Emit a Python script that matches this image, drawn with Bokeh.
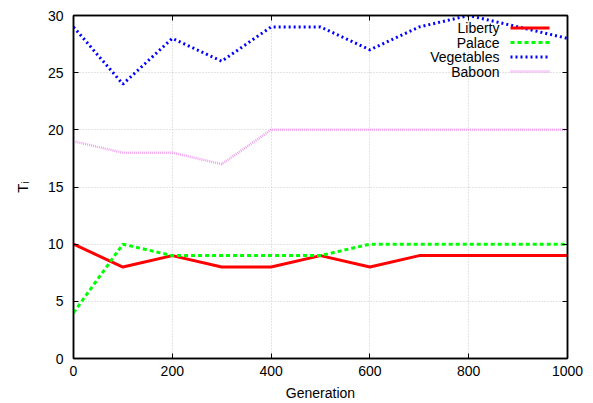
from bokeh.plotting import figure
from bokeh.models import LinearAxis, Range1d, Label, FixedTicker, Arrow
from bokeh.embed import file_html
from bokeh.resources import INLINE

generation = [0, 100, 200, 300, 400, 500, 600, 700, 800, 900, 1000]
liberty = [10, 8, 9, 8, 8, 9, 8, 9, 9, 9, 9]
palace = [4, 10, 9, 9, 9, 9, 10, 10, 10, 10, 10]
vegetables = [29, 24, 28, 26, 29, 29, 27, 29, 30, 29, 28]
baboon = [19, 18, 18, 17, 20, 20, 20, 20, 20, 20, 20]
series_names = ["Liberty", "Palace", "Vegetables", "Baboon"]
x_ticks = [0, 200, 400, 600, 800, 1000]
y_ticks = [0, 5, 10, 15, 20, 25, 30]

FONT = "Liberation Sans"
FS = "14px"

p = figure(width=585, height=403, output_backend="svg", toolbar_location=None,
           x_range=Range1d(0, 1000), y_range=Range1d(0, 30),
           min_border_left=73, min_border_right=18, min_border_top=15, min_border_bottom=45)
p.outline_line_color = "black"
p.outline_line_width = 1.5
p.background_fill_color = "white"
p.border_fill_color = "white"

for ax in (p.xaxis[0], p.yaxis[0]):
    ax.major_tick_in = 5
    ax.major_tick_out = 0
    ax.minor_tick_in = 0
    ax.minor_tick_out = 0
    ax.axis_line_color = "black"
    ax.axis_line_width = 1.5
    ax.major_tick_line_color = "black"
    ax.major_label_text_font = FONT
    ax.major_label_text_font_size = FS
    ax.major_label_text_color = "black"
    ax.axis_label_text_font = FONT
    ax.axis_label_text_font_size = FS
    ax.axis_label_text_font_style = "normal"
    ax.axis_label_text_color = "black"

p.xaxis[0].ticker = FixedTicker(ticks=x_ticks)
p.yaxis[0].ticker = FixedTicker(ticks=y_ticks)
p.xaxis[0].axis_label = "Generation"
p.xaxis[0].major_label_standoff = 7
p.xaxis[0].axis_label_standoff = 6
p.yaxis[0].axis_label = "Tᵢ"
p.yaxis[0].axis_label_text_font_size = "15px"
p.yaxis[0].major_label_standoff = 10
p.yaxis[0].axis_label_standoff = 14

# mirrored ticks (no labels)
rax = LinearAxis(ticker=FixedTicker(ticks=y_ticks),
                 major_label_overrides={t: "" for t in y_ticks},
                 major_tick_in=5, major_tick_out=0, minor_tick_in=0, minor_tick_out=0,
                 axis_line_color="black", axis_line_width=1.5, major_label_standoff=0)
tax = LinearAxis(ticker=FixedTicker(ticks=x_ticks),
                 major_label_overrides={t: "" for t in x_ticks},
                 major_tick_in=5, major_tick_out=0, minor_tick_in=0, minor_tick_out=0,
                 axis_line_color="black", axis_line_width=1.5, major_label_standoff=0)
p.add_layout(rax, "right")
p.add_layout(tax, "above")

p.xgrid.ticker = FixedTicker(ticks=x_ticks[1:-1])
p.ygrid.ticker = FixedTicker(ticks=y_ticks[1:-1])
p.grid.grid_line_color = "#c8c8c8"
p.grid.grid_line_dash = "1 2"
p.grid.grid_line_width = 1

styles = [
    dict(line_color="#ff0000", line_width=3, line_dash="solid"),
    dict(line_color="#00ff00", line_width=3, line_dash="4 3"),
    dict(line_color="#0000ff", line_width=3, line_dash="2 3"),
    dict(line_color="#f0a0f0", line_width=2.5, line_dash="1 1"),
]
series = [liberty, palace, vegetables, baboon]
for vals, st in zip(series, styles):
    p.line(generation, vals, **st)

# legend: right-aligned text, then a line sample (gnuplot style)
for i, (name, st) in enumerate(zip(series_names, styles)):
    yy = 330.5 - i * 14.5
    p.add_layout(Label(x=426, y=yy, x_units="screen", y_units="screen",
                       text=name, text_align="right", text_baseline="middle",
                       text_font=FONT, text_font_size=FS, text_color="black"))
    p.add_layout(Arrow(x_start=437, y_start=yy, x_end=476, y_end=yy,
                       start_units="screen", end_units="screen",
                       start=None, end=None, **st))

open("out.html", "w").write(file_html(p, INLINE))
